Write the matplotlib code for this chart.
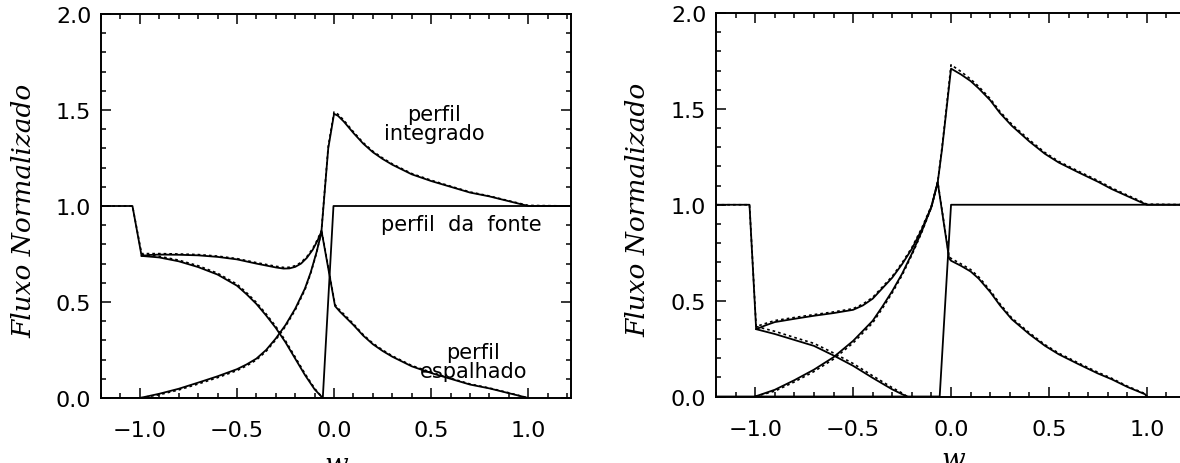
import matplotlib
matplotlib.use("Agg")
import matplotlib.pyplot as plt
from matplotlib.ticker import MultipleLocator, FuncFormatter

# ---------------- data: left panel ----------------
L_int_w = [-1.2, -1.038, -0.991, -0.95, -0.9, -0.8, -0.7, -0.6, -0.5, -0.4, -0.3, -0.26, -0.23,
           -0.2, -0.17, -0.14, -0.11, -0.085, -0.065, -0.03, 0.0, 0.02, 0.05, 0.1, 0.15, 0.2,
           0.25, 0.3, 0.35, 0.4, 0.5, 0.6, 0.7, 0.8, 0.9, 1.0, 1.22]
L_int = [1.0, 1.0, 0.74, 0.745, 0.747, 0.746, 0.743, 0.735, 0.722, 0.70, 0.68, 0.674, 0.675,
         0.683, 0.70, 0.73, 0.772, 0.82, 0.867, 1.30, 1.48, 1.47, 1.44, 1.38, 1.325, 1.28,
         1.245, 1.215, 1.19, 1.165, 1.13, 1.10, 1.07, 1.05, 1.025, 1.0, 1.0]
L_int_d = [1.0, 1.0, 0.752, 0.752, 0.752, 0.75, 0.747, 0.739, 0.726, 0.705, 0.686, 0.68, 0.681,
           0.689, 0.706, 0.736, 0.778, 0.826, 0.872, 1.31, 1.49, 1.478, 1.447, 1.386, 1.33, 1.285,
           1.25, 1.219, 1.194, 1.169, 1.134, 1.103, 1.073, 1.052, 1.027, 1.003, 1.0]

L_src_w = [-1.2, -0.058, -0.003, 1.22]
L_src = [0.0, 0.0, 1.0, 1.0]

L_A_w = [-0.991, -0.9, -0.8, -0.7, -0.6, -0.5, -0.45, -0.4, -0.35, -0.3, -0.25, -0.2, -0.15,
         -0.1, -0.058]
L_A = [0.74, 0.732, 0.712, 0.682, 0.643, 0.585, 0.54, 0.49, 0.43, 0.365, 0.29, 0.205, 0.12,
       0.045, 0.0]
L_A_d = [0.748, 0.738, 0.718, 0.689, 0.65, 0.593, 0.548, 0.498, 0.438, 0.373, 0.298, 0.213,
         0.127, 0.05, 0.0]

L_B_w = [-1.0, -0.9, -0.8, -0.7, -0.6, -0.5, -0.45, -0.4, -0.35, -0.3, -0.25, -0.2, -0.15,
         -0.12, -0.09, -0.064, 0.005, 0.03, 0.06, 0.1, 0.15, 0.2, 0.25, 0.3, 0.35, 0.4, 0.5,
         0.6, 0.7, 0.8, 0.9, 1.0]
L_B = [0.0, 0.022, 0.048, 0.08, 0.113, 0.15, 0.175, 0.205, 0.25, 0.31, 0.38, 0.465, 0.57,
       0.655, 0.76, 0.867, 0.479, 0.45, 0.42, 0.38, 0.325, 0.28, 0.245, 0.215, 0.19, 0.165,
       0.13, 0.10, 0.07, 0.05, 0.025, 0.0]
L_B_d = [0.0, 0.017, 0.042, 0.073, 0.106, 0.143, 0.168, 0.198, 0.243, 0.303, 0.373, 0.458,
         0.563, 0.65, 0.756, 0.872, 0.486, 0.457, 0.427, 0.386, 0.33, 0.285, 0.25, 0.219, 0.194,
         0.169, 0.134, 0.103, 0.073, 0.052, 0.027, 0.0]

# ---------------- data: right panel ----------------
R_int_w = [-1.2, -1.029, -0.995, -0.95, -0.9, -0.8, -0.7, -0.6, -0.5, -0.45, -0.4, -0.35, -0.3,
           -0.25, -0.2, -0.15, -0.1, -0.068, -0.046, -0.035, 0.0, 0.05, 0.1, 0.141, 0.2, 0.25,
           0.31, 0.4, 0.48, 0.55, 0.65, 0.75, 0.82, 0.9, 0.97, 1.0, 1.22]
R_int = [1.0, 1.0, 0.351, 0.37, 0.388, 0.405, 0.421, 0.435, 0.452, 0.475, 0.51, 0.565, 0.62,
         0.69, 0.77, 0.87, 0.99, 1.117, 1.29, 1.39, 1.71, 1.68, 1.645, 1.607, 1.545, 1.478,
         1.412, 1.33, 1.265, 1.22, 1.169, 1.12, 1.082, 1.045, 1.013, 1.0, 1.0]
R_int_d = [1.0, 1.0, 0.365, 0.38, 0.396, 0.412, 0.427, 0.441, 0.458, 0.482, 0.517, 0.572, 0.627,
           0.697, 0.777, 0.877, 0.995, 1.12, 1.30, 1.40, 1.73, 1.695, 1.655, 1.617, 1.553, 1.486,
           1.42, 1.338, 1.272, 1.226, 1.175, 1.126, 1.088, 1.05, 1.018, 1.003, 1.0]

R_src_w = [-1.2, -0.058, 0.0, 1.22]
R_src = [0.0, 0.0, 1.0, 1.0]

R_A_w = [-0.995, -0.9, -0.8, -0.7, -0.6, -0.5, -0.4, -0.3, -0.25, -0.224]
R_A = [0.351, 0.326, 0.295, 0.264, 0.214, 0.16, 0.097, 0.037, 0.012, 0.0]
R_A_d = [0.365, 0.34, 0.308, 0.277, 0.227, 0.172, 0.108, 0.046, 0.018, 0.0]

R_B_w = [-1.0, -0.9, -0.8, -0.7, -0.6, -0.5, -0.4, -0.35, -0.3, -0.25, -0.2, -0.15, -0.1,
         -0.068, -0.01, 0.0, 0.05, 0.1, 0.141, 0.2, 0.25, 0.31, 0.4, 0.48, 0.55, 0.65, 0.75,
         0.82, 0.9, 0.99, 1.0]
R_B = [0.0, 0.035, 0.085, 0.14, 0.205, 0.29, 0.395, 0.47, 0.55, 0.64, 0.745, 0.86, 0.99,
       1.117, 0.72, 0.708, 0.682, 0.652, 0.615, 0.545, 0.475, 0.403, 0.325, 0.264, 0.22, 0.169,
       0.12, 0.09, 0.05, 0.012, 0.0]
R_B_d = [0.0, 0.028, 0.076, 0.13, 0.195, 0.279, 0.384, 0.46, 0.541, 0.632, 0.738, 0.855, 0.987,
         1.12, 0.73, 0.72, 0.692, 0.662, 0.624, 0.553, 0.483, 0.41, 0.332, 0.27, 0.226, 0.175,
         0.126, 0.095, 0.054, 0.015, 0.0]

x_ticks = [-1.0, -0.5, 0.0, 0.5, 1.0]
y_ticks = [0.0, 0.5, 1.0, 1.5, 2.0]
ylabel_text = "Fluxo Normalizado"
xlabel_text = "w"
annotations_L = [("perfil\nintegrado", 0.515, 1.43),
                 ("perfil  da  fonte", 0.655, 0.905),
                 ("perfil\nespalhado", 0.717, 0.19)]

# ---------------- figure ----------------
plt.rcParams['font.family'] = ['DejaVu Sans']
fig = plt.figure(figsize=(11.8, 4.64), dpi=100)
axL = fig.add_axes([101/1180, 1-399/464, 470/1180, 384/464])
axR = fig.add_axes([716/1180, 1-397.5/464, 474/1180, 383.5/464])

solid_kw = dict(color='black', lw=1.3, solid_joinstyle='round')
dash_kw = dict(color='black', lw=1.2, linestyle=(0, (1.6, 1.8)))

fmt = FuncFormatter(lambda v, p: f"{v:.1f}".replace('-', '\u2212'))


def style(ax, xlab_y):
    ax.set_xlim(-1.2, 1.22)
    ax.set_ylim(0.0, 2.0)
    ax.set_xticks(x_ticks)
    ax.set_yticks(y_ticks)
    ax.xaxis.set_minor_locator(MultipleLocator(0.1))
    ax.yaxis.set_minor_locator(MultipleLocator(0.1))
    ax.xaxis.set_major_formatter(fmt)
    ax.yaxis.set_major_formatter(fmt)
    ax.tick_params(which='both', direction='in', top=True, right=True, width=1.1, color='black')
    ax.tick_params(which='major', length=7)
    ax.tick_params(which='minor', length=3.5)
    ax.tick_params(axis='x', which='major', pad=16, labelsize=16)
    ax.tick_params(axis='y', which='major', pad=7, labelsize=16)
    for s in ax.spines.values():
        s.set_linewidth(1.4)
    ax.set_ylabel(ylabel_text, fontsize=19, fontstyle='italic', family='DejaVu Serif', va='center')
    ax.yaxis.set_label_coords(-0.165, 0.49)
    ax.set_xlabel(xlabel_text, fontsize=20, fontstyle='italic', family='DejaVu Serif', va='top')
    ax.xaxis.set_label_coords(0.5, xlab_y)


for ax, data in [(axL, (L_int_w, L_int, L_int_d, L_src_w, L_src, L_A_w, L_A, L_A_d, L_B_w, L_B, L_B_d)),
                 (axR, (R_int_w, R_int, R_int_d, R_src_w, R_src, R_A_w, R_A, R_A_d, R_B_w, R_B, R_B_d))]:
    iw, iv, ivd, sw, sv, aw, av, avd, bw, bv, bvd = data
    ax.plot(iw, ivd, **dash_kw)
    ax.plot(aw, avd, **dash_kw)
    ax.plot(bw, bvd, **dash_kw)
    ax.plot(iw, iv, **solid_kw)
    ax.plot(sw, sv, **solid_kw)
    ax.plot(aw, av, **solid_kw)
    ax.plot(bw, bv, **solid_kw)

style(axL, -0.138)
style(axR, -0.128)

for txt, x, y in annotations_L:
    axL.text(x, y, txt, ha='center', va='center', fontsize=15, linespacing=0.95)

fig.savefig("out.png", dpi=100)
